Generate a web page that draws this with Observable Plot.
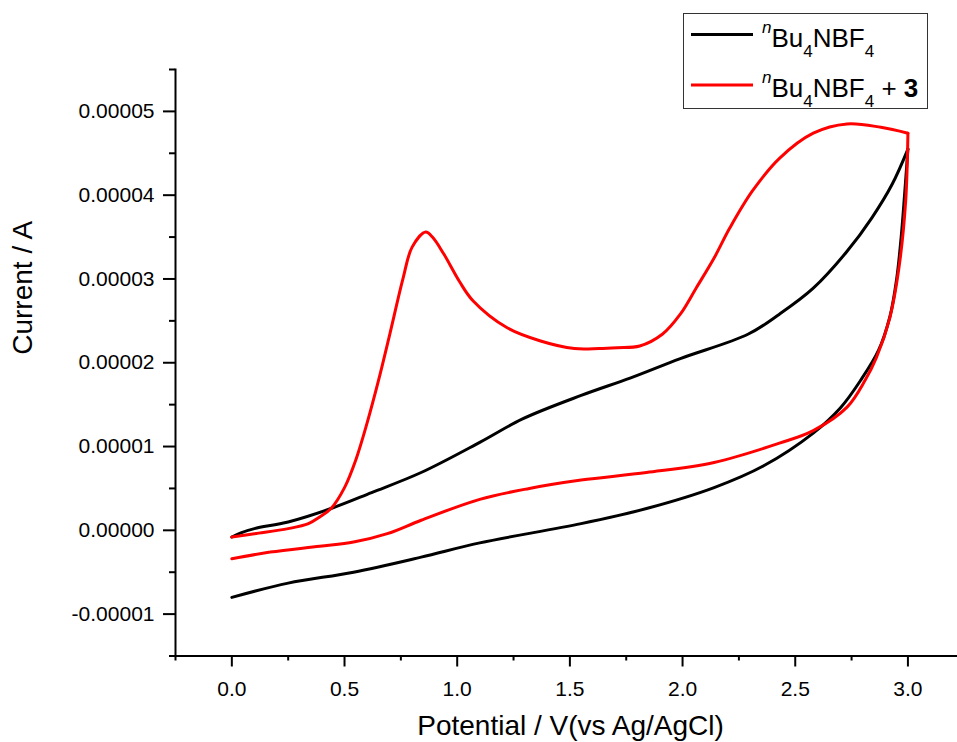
<!DOCTYPE html>
<html>
<head>
<meta charset="utf-8">
<script src="https://cdn.jsdelivr.net/npm/d3@7"></script>
<script src="https://cdn.jsdelivr.net/npm/@observablehq/plot@0.6"></script>
<style>
  html, body { margin: 0; padding: 0; background: #fff; }
  #wrap { position: relative; width: 957px; height: 742px; font-family: "Liberation Sans", Arial, sans-serif; }
  #legend { position: absolute; left: 0; top: 0; pointer-events: none; }
</style>
</head>
<body>
<div id="wrap"></div>
<script>
// Black: nBu4NBF4 (forward then reverse scan)
const blackPotential = [0.0, 0.04, 0.10, 0.25, 0.44, 0.62, 0.84, 1.10, 1.29, 1.55, 1.77, 1.99, 2.29, 2.43, 2.58, 2.73, 2.84, 2.93, 3.0,
  2.985, 2.97, 2.95, 2.92, 2.87, 2.79, 2.70, 2.58, 2.36, 2.14, 1.84, 1.55, 1.10, 0.84, 0.54, 0.25, 0.0];
const blackCurrent = [-0.08e-5, -0.03e-5, 0.02e-5, 0.10e-5, 0.26e-5, 0.45e-5, 0.69e-5, 1.05e-5, 1.33e-5, 1.61e-5, 1.82e-5, 2.05e-5, 2.34e-5, 2.58e-5, 2.89e-5, 3.33e-5, 3.73e-5, 4.13e-5, 4.55e-5,
  4.0e-5, 3.5e-5, 3.0e-5, 2.55e-5, 2.15e-5, 1.79e-5, 1.46e-5, 1.16e-5, 0.77e-5, 0.51e-5, 0.26e-5, 0.08e-5, -0.15e-5, -0.32e-5, -0.50e-5, -0.63e-5, -0.80e-5];

// Red: nBu4NBF4 + 3
const redPotential = [0.0, 0.10, 0.25, 0.34, 0.39, 0.44, 0.50, 0.55, 0.60, 0.65, 0.70, 0.76, 0.80, 0.86, 0.89, 0.94, 1.01, 1.07, 1.22, 1.37, 1.52, 1.63, 1.71, 1.81, 1.91, 1.99, 2.06, 2.14, 2.21, 2.31, 2.43, 2.58, 2.73, 2.88, 3.0,
  2.99, 2.96, 2.92, 2.86, 2.81, 2.73, 2.58, 2.43, 2.14, 1.84, 1.55, 1.32, 1.10, 0.84, 0.69, 0.54, 0.39, 0.17, 0.0];
const redCurrent = [-0.08e-5, -0.04e-5, 0.02e-5, 0.08e-5, 0.16e-5, 0.26e-5, 0.51e-5, 0.84e-5, 1.28e-5, 1.78e-5, 2.33e-5, 3.01e-5, 3.38e-5, 3.56e-5, 3.50e-5, 3.30e-5, 2.97e-5, 2.74e-5, 2.42e-5, 2.26e-5, 2.17e-5, 2.17e-5, 2.18e-5, 2.20e-5, 2.34e-5, 2.58e-5, 2.89e-5, 3.25e-5, 3.61e-5, 4.05e-5, 4.44e-5, 4.74e-5, 4.85e-5, 4.81e-5, 4.74e-5,
  3.93e-5, 3.13e-5, 2.54e-5, 2.06e-5, 1.79e-5, 1.47e-5, 1.19e-5, 1.04e-5, 0.81e-5, 0.69e-5, 0.60e-5, 0.50e-5, 0.37e-5, 0.12e-5, -0.04e-5, -0.14e-5, -0.19e-5, -0.26e-5, -0.34e-5];

const xMajorTicks = [0.0, 0.5, 1.0, 1.5, 2.0, 2.5, 3.0];
const xMinorTicks = [-0.25, 0.25, 0.75, 1.25, 1.75, 2.25, 2.75];
const yMajorTicks = [-1e-5, 0, 1e-5, 2e-5, 3e-5, 4e-5, 5e-5];
const yMinorTicks = [-1.5e-5, -0.5e-5, 0.5e-5, 1.5e-5, 2.5e-5, 3.5e-5, 4.5e-5, 5.5e-5];

const xTitle = "Potential / V(vs Ag/AgCl)";
const yTitle = "Current / A";
const seriesColors = ["#000000", "#ff0000"];

// split each voltammogram into forward and reverse scans at the switching potential
function scans(potential, current) {
  const turn = d3.maxIndex(potential);
  return potential.map((x, i) => ({x, y: current[i], i})).flatMap(d =>
    d.i === turn ? [{...d, scan: "forward"}, {...d, scan: "reverse"}] : [{...d, scan: d.i < turn ? "forward" : "reverse"}]);
}
const black = scans(blackPotential, blackCurrent);
const red = scans(redPotential, redCurrent);

const font = "Liberation Sans, Arial, sans-serif";

const chart = Plot.plot({
  width: 957,
  height: 742,
  marginLeft: 175,
  marginRight: 0,
  marginTop: 69,
  marginBottom: 86.5,
  style: {fontFamily: font, fontSize: "21px", background: "#fff", color: "#000", overflow: "visible"},
  x: {domain: [-0.25, 3.22]},
  y: {domain: [-1.5e-5, 5.5e-5]},
  marks: [
    Plot.axisX({ticks: xMinorTicks, tickSize: 5, strokeWidth: 2, text: null, label: null}),
    Plot.axisX({ticks: xMajorTicks, tickSize: 11, strokeWidth: 2, tickPadding: 14, tickFormat: d => d.toFixed(1), fontSize: 21, label: null}),
    Plot.axisY({ticks: yMinorTicks, tickSize: 6, strokeWidth: 2, text: null, label: null}),
    Plot.axisY({ticks: yMajorTicks, tickSize: 12, strokeWidth: 2, tickPadding: 9, tickFormat: d => d.toFixed(5), fontSize: 21, label: null}),
    Plot.frame({anchor: "left", strokeWidth: 2}),
    Plot.frame({anchor: "bottom", strokeWidth: 2}),
    Plot.line(black, {x: "x", y: "y", z: "scan", stroke: seriesColors[0], strokeWidth: 3, curve: "catmull-rom"}),
    Plot.line(red, {x: "x", y: "y", z: "scan", stroke: seriesColors[1], strokeWidth: 3, curve: "catmull-rom", strokeLinejoin: "miter"}),
    Plot.text([xTitle], {frameAnchor: "bottom", lineAnchor: "middle", dy: 70, dx: 4, fontSize: 28, text: d => d}),
    Plot.text([yTitle], {frameAnchor: "left", lineAnchor: "middle", rotate: -90, dx: -152, dy: -8, fontSize: 28, text: d => d})
  ]
});

const wrap = document.getElementById("wrap");
wrap.appendChild(chart);

// Legend overlay
const legendEntries = [
  {color: seriesColors[0], lineY: 34.5, baseline: 46.7, extra: null},
  {color: seriesColors[1], lineY: 85, baseline: 96.7, extra: "3"}
];
const svg = d3.select(wrap).append("svg")
  .attr("id", "legend").attr("width", 957).attr("height", 120)
  .style("font-family", font);
svg.append("rect").attr("x", 683.5).attr("y", 13.5).attr("width", 244).attr("height", 95)
  .attr("fill", "#fff").attr("stroke", "#333").attr("stroke-width", 1);
for (const e of legendEntries) {
  svg.append("line").attr("x1", 691).attr("x2", 753).attr("y1", e.lineY).attr("y2", e.lineY)
    .attr("stroke", e.color).attr("stroke-width", 3);
  const t = svg.append("text").attr("x", 762).attr("y", e.baseline).attr("font-size", 26).attr("fill", "#000");
  t.append("tspan").attr("font-style", "italic").attr("font-size", 17).attr("dy", -14).text("n");
  t.append("tspan").attr("dy", 14).text("Bu");
  t.append("tspan").attr("font-size", 17).attr("dy", 10).text("4");
  t.append("tspan").attr("dy", -10).text("NBF");
  t.append("tspan").attr("font-size", 17).attr("dy", 10).text("4");
  if (e.extra) {
    t.append("tspan").attr("dy", -10).text(" + ");
    t.append("tspan").attr("font-weight", "bold").text(e.extra);
  }
}
</script>
</body>
</html>
